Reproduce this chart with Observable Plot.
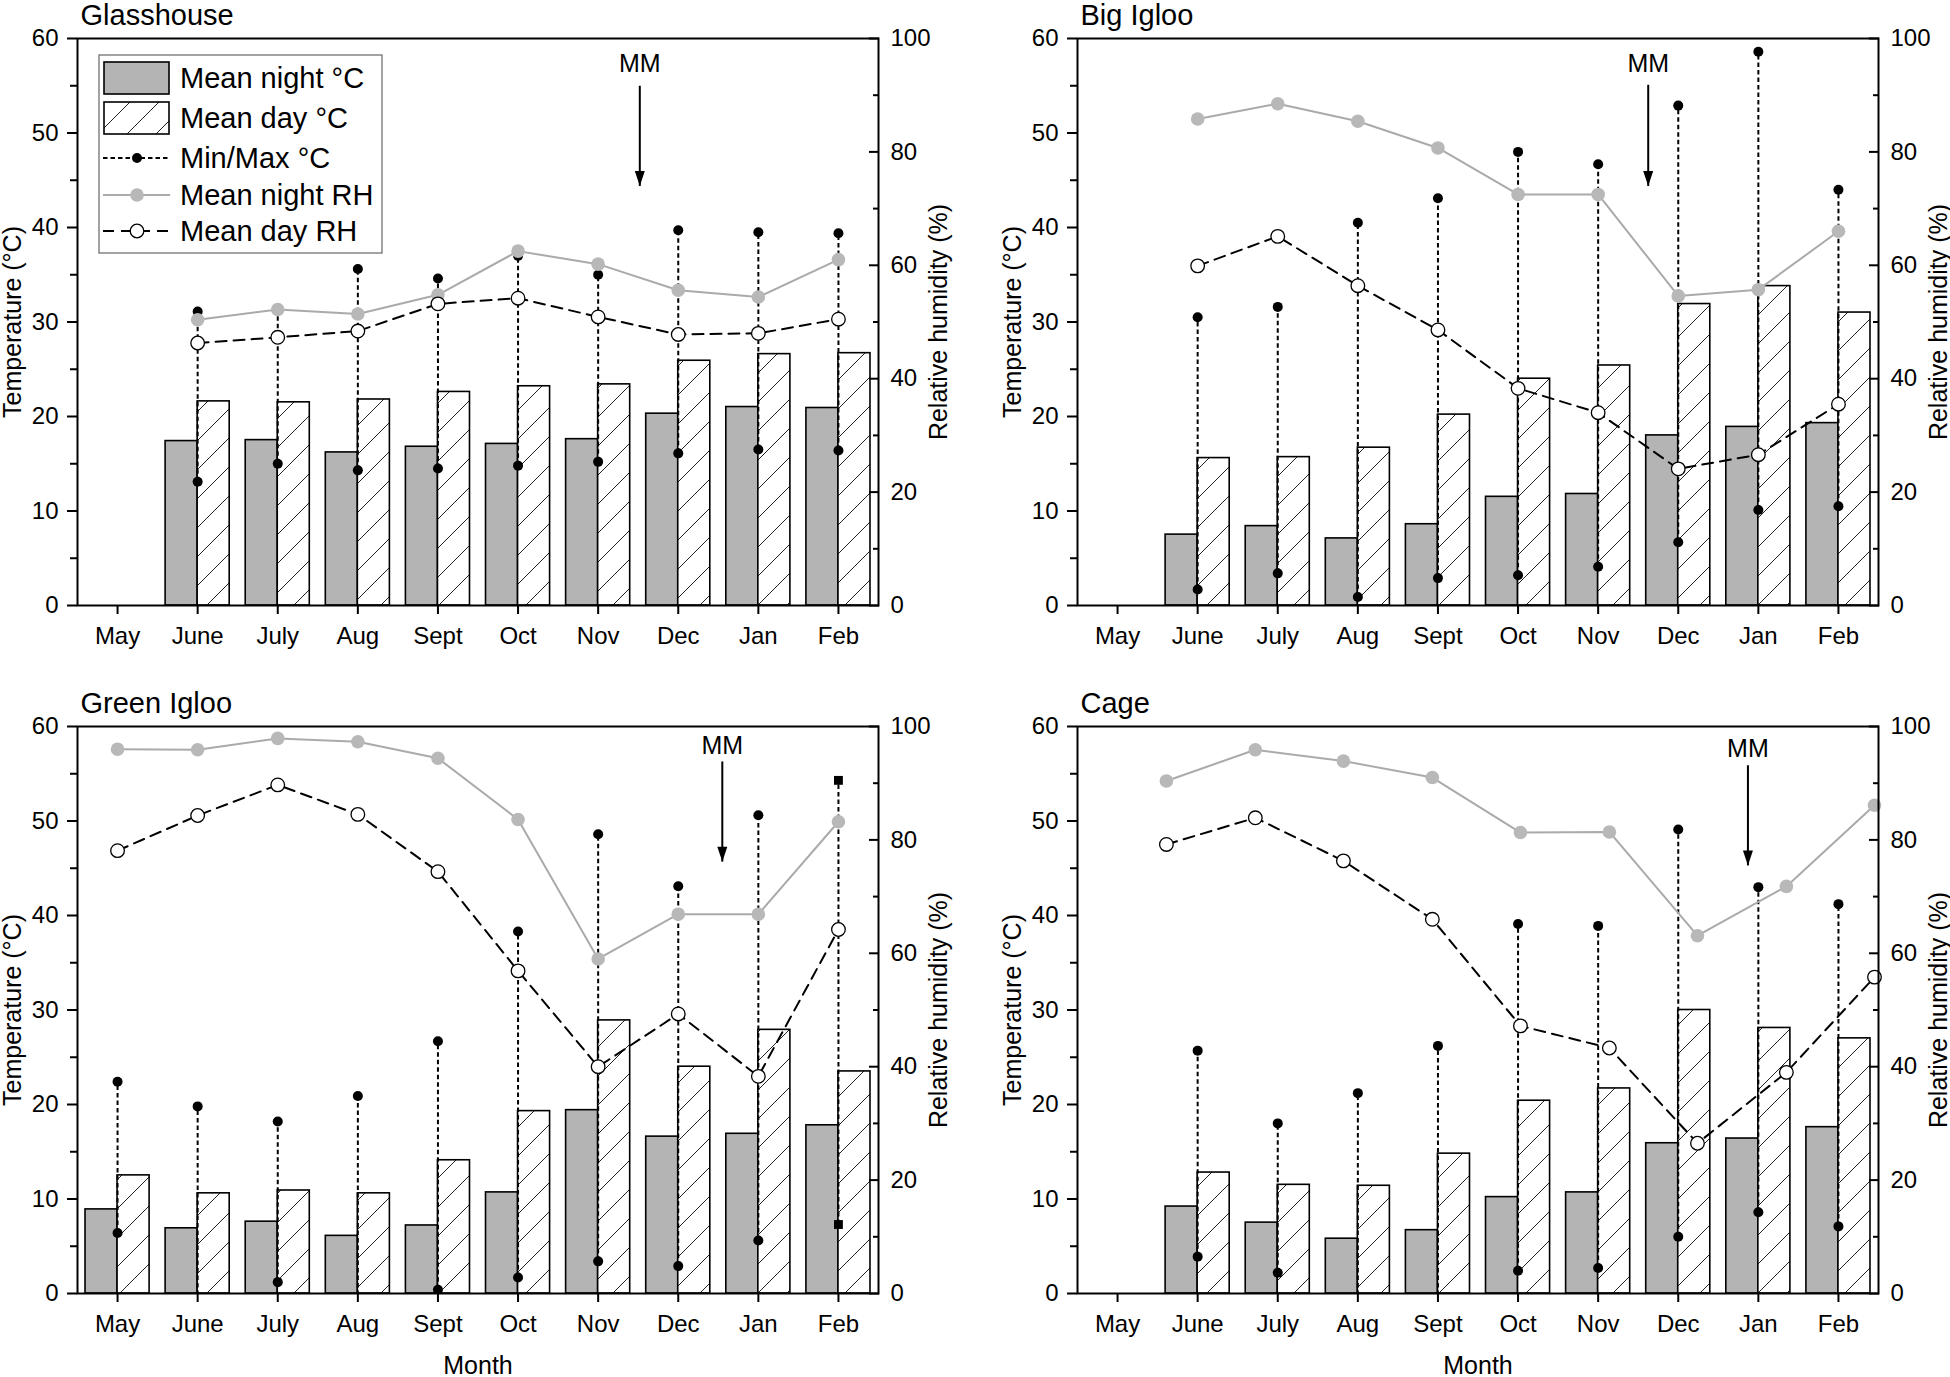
<!DOCTYPE html>
<html><head><meta charset="utf-8">
<script src="https://cdn.jsdelivr.net/npm/d3@7"></script>
<script src="https://cdn.jsdelivr.net/npm/@observablehq/plot@0.6"></script>
<style>
body{margin:0;background:#fff;width:1950px;height:1377px;overflow:hidden;font-family:"Liberation Sans",Arial,sans-serif;}
#wrap{position:relative;width:1950px;height:1377px;}
</style></head><body>
<svg width="0" height="0" style="position:absolute"><defs>
<pattern id="hatch" patternUnits="userSpaceOnUse" width="29" height="29">
<rect width="29" height="29" fill="white"/>
<path d="M0,29 L29,0 M-3,3 L3,-3 M26,32 L32,26" stroke="#222" stroke-width="1"/>
</pattern></defs></svg>
<div id="wrap"></div>
<script>
const months = ["May","June","July","Aug","Sept","Oct","Nov","Dec","Jan","Feb"];
const tempTicks = [0,10,20,30,40,50,60];
const tempMinor = [5,15,25,35,45,55];
const rhTicks = [0,20,40,60,80,100];
const rhMinor = [10,30,50,70,90];

// Glasshouse
const ghNight = [null,17.4,17.5,16.2,16.8,17.1,17.6,20.3,21.0,20.9];
const ghDay   = [null,21.6,21.5,21.8,22.6,23.2,23.4,25.9,26.6,26.7];
const ghMax   = [null,31.1,31.3,35.6,34.6,37.0,35.0,39.7,39.5,39.4];
const ghMin   = [null,13.1,15.0,14.3,14.5,14.8,15.2,16.1,16.5,16.4];
const ghNightRH = [null,50.4,52.2,51.4,54.8,62.5,60.2,55.6,54.4,61.0];
const ghDayRH   = [null,46.3,47.3,48.4,53.2,54.2,50.9,47.8,48.0,50.5];

// Big Igloo
const biNight = [null,7.5,8.4,7.1,8.6,11.5,11.8,18.0,18.9,19.3];
const biDay   = [null,15.6,15.7,16.7,20.2,24.0,25.4,31.9,33.8,31.0];
const biMax   = [null,30.5,31.6,40.5,43.1,48.0,46.7,52.9,58.6,44.0];
const biMin   = [null,1.7,3.4,0.9,2.9,3.2,4.1,6.7,10.1,10.5];
const biNightRH = [null,85.8,88.5,85.4,80.7,72.5,72.5,54.6,55.7,66.0];
const biDayRH   = [null,59.9,65.1,56.4,48.6,38.3,34.0,24.1,26.6,35.5];

// Green Igloo
const giNight = [8.9,6.9,7.6,6.1,7.2,10.7,19.4,16.6,16.9,17.8];
const giDay   = [12.5,10.6,10.9,10.6,14.1,19.3,28.9,24.0,27.9,23.5];
const giMax   = [22.4,19.8,18.2,20.9,26.7,38.3,48.6,43.1,50.6,54.3];
const giMin   = [6.4,-1,1.2,-1,0.4,1.7,3.4,2.9,5.6,7.3];
const giShape = ["circle","circle","circle","circle","circle","circle","circle","circle","circle","square"];
const giNightRH = [96.0,95.9,97.9,97.3,94.4,83.6,59.0,66.9,66.9,83.2];
const giDayRH   = [78.1,84.3,89.7,84.5,74.4,56.9,40.0,49.3,38.3,64.2];

// Cage
const cgNight = [null,9.2,7.5,5.8,6.7,10.2,10.7,15.9,16.4,17.6];
const cgDay   = [null,12.8,11.5,11.4,14.8,20.4,21.7,30.0,28.1,27.0];
const cgMax   = [null,25.7,18.0,21.2,26.2,39.1,38.9,49.1,43.0,41.2];
const cgMin   = [null,3.9,2.2,-1,-1,2.4,2.7,6.0,8.6,7.1];
const cgNightRH = [90.4,95.9,93.9,91.0,81.3,81.4,63.1,71.8,86.1];
const cgDayRH   = [79.2,83.9,76.3,66.0,47.2,43.3,26.5,39.0,55.8];
const cgRHx     = [0.61,1.72,2.82,3.93,5.03,6.14,7.24,8.35,9.45];

// MM arrows (month-index x, temperature y)
const mmX      = [6.52,6.625,7.55,7.87];
const mmLabelY = [57.3,57.3,57.9,57.6];
const mmTop    = [55.0,55.1,56.3,55.9];
const mmTip    = [44.4,44.4,45.7,45.3];

const titles = ["Glasshouse","Big Igloo","Green Igloo","Cage"];

const panels = [
  {night:ghNight, day:ghDay, max:ghMax, min:ghMin, nightRH:ghNightRH, dayRH:ghDayRH, left:0, top:0},
  {night:biNight, day:biDay, max:biMax, min:biMin, nightRH:biNightRH, dayRH:biDayRH, left:1000, top:0},
  {night:giNight, day:giDay, max:giMax, min:giMin, shape:giShape, nightRH:giNightRH, dayRH:giDayRH, left:0, top:688, month:true},
  {night:cgNight, day:cgDay, max:cgMax, min:cgMin, nightRH:cgNightRH, dayRH:cgDayRH, rhX:cgRHx, left:1000, top:688, month:true}
];

const FONT = "'Liberation Sans', Arial, Helvetica, sans-serif";
const R = 0.6; // RH -> temperature axis factor (100% = 60 °C)

const downTri = {draw(ctx){ ctx.moveTo(0,0); ctx.lineTo(-5,-15); ctx.lineTo(5,-15); ctx.closePath(); }};

function makePanel(p, k) {
  const rows = months.map((m, i) => ({i, night:p.night[i], day:p.day[i], max:p.max[i], min:p.min[i], shape: p.shape ? p.shape[i] : "circle"}));
  const bars = rows.filter(d => d.night != null);
  const mm = rows.filter(d => d.max != null);
  const pts = mm.flatMap(d => [{i:d.i, v:d.max, shape:d.shape}, {i:d.i, v:d.min, shape:d.shape}]);
  const rh = p.nightRH.map((v, j) => ({x: p.rhX ? p.rhX[j] : j, n: v, d: p.dayRH[j]})).filter(d => d.n != null);
  const arrow = [{x: mmX[k], top: mmTop[k], tip: mmTip[k], ly: mmLabelY[k]}];
  const marks = [
    Plot.rect(bars, {x1: d => d.i - 0.4, x2: d => d.i, y1: () => 0, y2: "night", fill: "#b4b4b4", stroke: "black", strokeWidth: 1.6}),
    Plot.rect(bars, {x1: d => d.i, x2: d => d.i + 0.4, y1: () => 0, y2: "day", fill: "url(#hatch)", stroke: "black", strokeWidth: 1.6}),
    Plot.ruleX(mm, {x: "i", y1: "min", y2: "max", stroke: "black", strokeWidth: 2, strokeDasharray: "4.5,3", clip: true}),
    Plot.dot(pts.filter(d => d.shape === "circle"), {x: "i", y: "v", r: 5, fill: "black", clip: true}),
    Plot.dot(pts.filter(d => d.shape === "square"), {x: "i", y: "v", r: 5, symbol: "square", fill: "black", clip: true}),
    Plot.line(rh, {x: "x", y: d => d.n * R, stroke: "#aaaaaa", strokeWidth: 2}),
    Plot.line(rh, {x: "x", y: d => d.d * R, stroke: "black", strokeWidth: 2, strokeDasharray: "11,7"}),
    Plot.dot(rh, {x: "x", y: d => d.n * R, r: 6.8, fill: "#b8b8b8"}),
    Plot.dot(rh, {x: "x", y: d => d.d * R, r: 6.8, fill: "white", stroke: "black", strokeWidth: 1.3}),
    Plot.link(arrow, {x1: "x", x2: "x", y1: "top", y2: "tip", stroke: "black", strokeWidth: 2}),
    Plot.dot(arrow, {x: "x", y: "tip", symbol: downTri, r: 5, fill: "black"}),
    Plot.text(arrow, {x: "x", y: "ly", text: () => "MM", fontSize: 25}),
    Plot.axisX(d3.range(months.length), {anchor: "bottom", tickSize: 9, tickPadding: 12, tickFormat: i => months[i], fontSize: 24, strokeWidth: 2, label: null}),
    Plot.axisY(tempTicks, {anchor: "left", tickSize: 10, tickPadding: 9, fontSize: 24, strokeWidth: 2, label: null}),
    Plot.axisY(tempMinor, {anchor: "left", tickSize: 7, tickFormat: () => "", strokeWidth: 2, label: null}),
    Plot.axisY(rhTicks.map(v => v * R), {anchor: "right", tickSize: -10, tickFormat: () => "", strokeWidth: 2, label: null}),
    Plot.axisY(rhTicks.map(v => v * R), {anchor: "right", tickSize: 0, tickPadding: 12, tickFormat: d => Math.round(d / R), fontSize: 24, label: null}),
    Plot.axisY(rhMinor.map(v => v * R), {anchor: "right", tickSize: -6, tickFormat: () => "", strokeWidth: 2, label: null}),
    Plot.frame({stroke: "black", strokeWidth: 2}),
    Plot.text([titles[k]], {text: d => d, frameAnchor: "top-left", dx: 3, dy: -23, textAnchor: "start", lineAnchor: "middle", fontSize: 29}),
    Plot.text(["Temperature (°C)"], {text: d => d, frameAnchor: "left", dx: -65, rotate: -90, textAnchor: "middle", lineAnchor: "middle", fontSize: 25}),
    Plot.text(["Relative humidity (%)"], {text: d => d, frameAnchor: "right", dx: 60, rotate: -90, textAnchor: "middle", lineAnchor: "middle", fontSize: 25})
  ];
  if (p.month) marks.push(Plot.text(["Month"], {text: d => d, frameAnchor: "bottom", dy: 72, lineAnchor: "middle", fontSize: 25}));
  const svg = Plot.plot({
    width: 950, height: 688,
    marginLeft: 77, marginRight: 72, marginTop: 38, marginBottom: 83,
    x: {domain: [-0.5, 9.5]},
    y: {domain: [0, 60]},
    style: {fontFamily: FONT, fontSize: "24px", color: "black", background: "transparent", overflow: "visible"},
    marks
  });
  svg.style.position = "absolute";
  svg.style.left = p.left + "px";
  svg.style.top = p.top + "px";
  return svg;
}

const wrap = document.getElementById("wrap");
panels.forEach((p, k) => wrap.appendChild(makePanel(p, k)));

// Legend (inside Glasshouse panel)
const legendItems = ["Mean night °C","Mean day °C","Min/Max °C","Mean night RH","Mean day RH"];
const rowY = [78,118,158,195,231];
const lg = d3.create("svg").attr("width", 400).attr("height", 270)
  .style("position","absolute").style("left","0px").style("top","0px").style("font-family", FONT);
lg.append("rect").attr("x",99).attr("y",55).attr("width",283).attr("height",198).attr("fill","white").attr("stroke","#666").attr("stroke-width",1.2);
lg.append("rect").attr("x",104).attr("y",rowY[0]-16).attr("width",65).attr("height",32).attr("fill","#b4b4b4").attr("stroke","black").attr("stroke-width",1.6);
lg.append("rect").attr("x",104).attr("y",rowY[1]-16).attr("width",65).attr("height",32).attr("fill","url(#hatch)").attr("stroke","black").attr("stroke-width",1.6);
lg.append("line").attr("x1",103).attr("x2",169).attr("y1",rowY[2]).attr("y2",rowY[2]).attr("stroke","black").attr("stroke-width",2).attr("stroke-dasharray","4.5,3");
lg.append("circle").attr("cx",137).attr("cy",rowY[2]).attr("r",5).attr("fill","black");
lg.append("line").attr("x1",103).attr("x2",170).attr("y1",rowY[3]).attr("y2",rowY[3]).attr("stroke","#aaaaaa").attr("stroke-width",2);
lg.append("circle").attr("cx",137).attr("cy",rowY[3]).attr("r",6.8).attr("fill","#b8b8b8");
lg.append("line").attr("x1",103).attr("x2",170).attr("y1",rowY[4]).attr("y2",rowY[4]).attr("stroke","black").attr("stroke-width",2).attr("stroke-dasharray","11,7");
lg.append("circle").attr("cx",137).attr("cy",rowY[4]).attr("r",6.8).attr("fill","white").attr("stroke","black").attr("stroke-width",1.3);
lg.selectAll("text.l").data(legendItems).join("text").attr("class","l")
  .attr("x",180).attr("y",(d,i)=>rowY[i]+10).attr("font-size",29).attr("fill","black").text(d=>d);
wrap.appendChild(lg.node());
</script>
</body></html>
